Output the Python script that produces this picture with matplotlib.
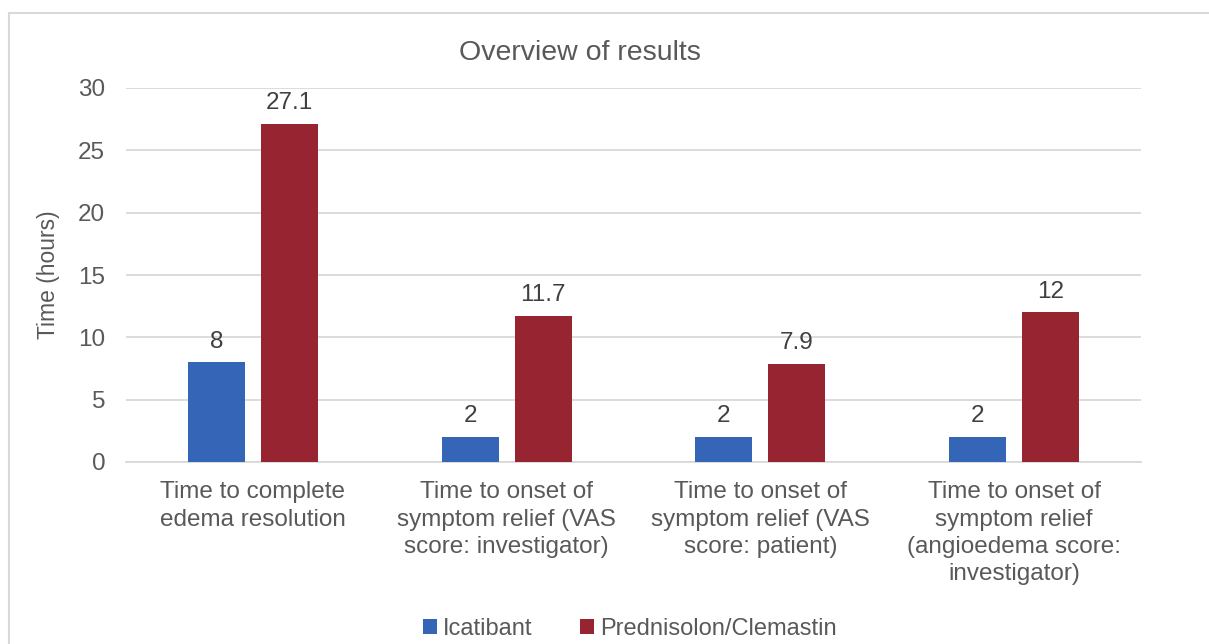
import matplotlib
matplotlib.use("Agg")
import matplotlib.pyplot as plt
from matplotlib.lines import Line2D
import numpy as np

categories = [
    "Time to complete\nedema resolution",
    "Time to onset of\nsymptom relief (VAS\nscore: investigator)",
    "Time to onset of\nsymptom relief (VAS\nscore: patient)",
    "Time to onset of\nsymptom relief\n(angioedema score:\ninvestigator)",
]
icatibant = [8, 2, 2, 2]
prednisolon = [27.1, 11.7, 7.9, 12]
series_names = ["Icatibant", "Prednisolon/Clemastin"]
yticks = [0, 5, 10, 15, 20, 25, 30]

plt.rcParams["font.family"] = ["Liberation Sans", "DejaVu Sans"]
TXT = "#595959"
BLUE = "#3565b7"
RED = "#962431"
FS = 17.5

W, H = 1209, 644
fig = plt.figure(figsize=(W / 100, H / 100), dpi=100)
ax = fig.add_axes([126 / W, 1 - 462 / H, (1141 - 126) / W, (462 - 88) / H])

x = np.arange(len(categories))
bw = 0.225
off = 0.144
b1 = ax.bar(x - off, icatibant, bw, color=BLUE, label=series_names[0], zorder=3)
b2 = ax.bar(x + off, prednisolon, bw, color=RED, label=series_names[1], zorder=3)

for bars, vals in ((b1, icatibant), (b2, prednisolon)):
    for rect, v in zip(bars, vals):
        ax.annotate(f"{v:g}", (rect.get_x() + rect.get_width() / 2, v),
                    xytext=(0, 7), textcoords="offset points",
                    ha="center", va="bottom", fontsize=FS, color="#404040")

ax.set_xlim(-0.5, len(categories) - 0.5)
ax.set_ylim(0, 30)
ax.set_yticks(yticks)
ax.yaxis.grid(True, color="#d9d9d9", linewidth=1.3, zorder=0)
ax.set_axisbelow(True)
for s in ("top", "right", "left"):
    ax.spines[s].set_visible(False)
ax.spines["bottom"].set_color("#d9d9d9")
ax.spines["bottom"].set_linewidth(1.3)
ax.tick_params(axis="both", length=0, labelsize=FS, labelcolor=TXT)
ax.tick_params(axis="y", pad=15)
ax.tick_params(axis="x", pad=14)
ax.set_xticks(x)
ax.set_xticklabels(categories, linespacing=1.3)
ax.set_ylabel("Time (hours)", fontsize=16.5, color=TXT, labelpad=13)

fig.text(580 / W, 1 - 53 / H, "Overview of results", ha="center", va="center",
         fontsize=20.5, color=TXT)

ax.legend(loc="center", bbox_to_anchor=(630 / W, 1 - 629 / H),
          bbox_transform=fig.transFigure, ncol=2, frameon=False,
          fontsize=17, labelcolor=TXT, handlelength=0.6, handleheight=0.6,
          handletextpad=0.25, columnspacing=2.0)

# outer chart frame
fig.add_artist(Line2D([9 / W, 1], [1 - 13 / H, 1 - 13 / H], color="#d9d9d9", lw=1.5))
fig.add_artist(Line2D([9 / W, 9 / W], [0, 1 - 13 / H], color="#d9d9d9", lw=1.5))

fig.savefig("out.png", dpi=100, facecolor="white")
